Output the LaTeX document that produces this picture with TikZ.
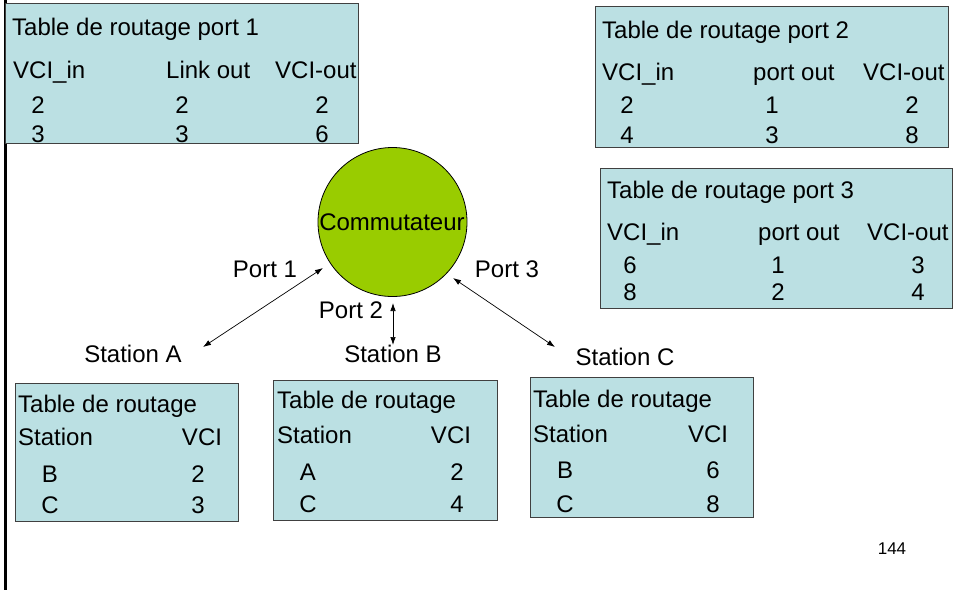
\documentclass[tikz,border=0pt]{standalone}
\usepackage{fontspec}
\setmainfont{Liberation Sans}
\usetikzlibrary{arrows.meta}
\definecolor{tabfill}{RGB}{187,224,227}
\definecolor{commgreen}{RGB}{153,204,0}
\begin{document}
\begin{tikzpicture}[x=1pt,y=-1pt,
  tabbox/.style={draw=black!75,line width=0.8pt,fill=tabfill},
  txt/.style={inner sep=0pt,font=\fontsize{24}{28}\selectfont,anchor=base},
  lft/.style={txt,anchor=base west},
  link/.style={line width=0.7pt,{Latex[length=8pt,width=5.5pt]}-{Latex[length=8pt,width=5.5pt]}}]
  \useasboundingbox (0,0) rectangle (959,590);
  \draw[line width=3pt] (5,0) -- (5,590);
  % tables of the switch
  \draw[tabbox] (5,3) rectangle (358,143);
  \node[lft] (t1title) at (12,35) {Table de routage port 1};
  \node[lft] (t1h1) at (13,78) {VCI\_in};
  \node[lft] (t1h2) at (166,78) {Link out};
  \node[lft] (t1h3) at (275,78) {VCI-out};
  \node[txt] (t1a1) at (38,113) {2};
  \node[txt] (t1a2) at (182,113) {2};
  \node[txt] (t1a3) at (322,113) {2};
  \node[txt] (t1b1) at (38,142) {3};
  \node[txt] (t1b2) at (182,142) {3};
  \node[txt] (t1b3) at (322,142) {6};
  \draw[tabbox] (595,6) rectangle (948,147);
  \node[lft] (t2title) at (602,38) {Table de routage port 2};
  \node[lft] (t2h1) at (602,80) {VCI\_in};
  \node[lft] (t2h2) at (753,80) {port out};
  \node[lft] (t2h3) at (863,80) {VCI-out};
  \node[txt] (t2a1) at (627,113) {2};
  \node[txt] (t2a2) at (772,113) {1};
  \node[txt] (t2a3) at (912,113) {2};
  \node[txt] (t2b1) at (627,143) {4};
  \node[txt] (t2b2) at (772,143) {3};
  \node[txt] (t2b3) at (912,143) {8};
  \draw[tabbox] (600,168) rectangle (952,308);
  \node[lft] (t3title) at (607,198) {Table de routage port 3};
  \node[lft] (t3h1) at (607,240) {VCI\_in};
  \node[lft] (t3h2) at (758,240) {port out};
  \node[lft] (t3h3) at (867,240) {VCI-out};
  \node[txt] (t3a1) at (630,273) {6};
  \node[txt] (t3a2) at (778,273) {1};
  \node[txt] (t3a3) at (918,273) {3};
  \node[txt] (t3b1) at (630,300) {8};
  \node[txt] (t3b2) at (778,300) {2};
  \node[txt] (t3b3) at (918,300) {4};
  % switch and ports
  \node[circle,draw,line width=0.8pt,fill=commgreen,minimum size=149pt,inner sep=0pt] (comm) at (392.5,222) {};
  \node[txt] (commlbl) at (392,230) {Commutateur};
  \node[txt] (port1) at (265,277) {Port 1};
  \node[txt] (port2) at (351,318) {Port 2};
  \node[txt] (port3) at (507,277) {Port 3};
  \node[txt] (staA) at (133,362) {Station A};
  \node[txt] (staB) at (393,362) {Station B};
  \node[txt] (staC) at (625,365) {Station C};
  \coordinate (p1in) at (323,268);
  \coordinate (p1out) at (203,347);
  \coordinate (p2in) at (393,303);
  \coordinate (p2out) at (393,345);
  \coordinate (p3in) at (453,278);
  \coordinate (p3out) at (555,347);
  \draw[link] (p1in) -- (p1out);
  \draw[link] (p2in) -- (p2out);
  \draw[link] (p3in) -- (p3out);
  % tables of the stations
  \draw[tabbox] (15,383) rectangle (238,521);
  \node[lft] (tatitle) at (18,412) {Table de routage};
  \node[lft] (tah1) at (18,445) {Station};
  \node[txt] (tah2) at (202,445) {VCI};
  \node[txt] (taa1) at (50,482) {B};
  \node[txt] (taa2) at (198,482) {2};
  \node[txt] (tab1) at (50,513) {C};
  \node[txt] (tab2) at (198,513) {3};
  \draw[tabbox] (273,380) rectangle (497,520);
  \node[lft] (tbtitle) at (277,408) {Table de routage};
  \node[lft] (tbh1) at (277,443) {Station};
  \node[txt] (tbh2) at (451,443) {VCI};
  \node[txt] (tba1) at (308,480) {A};
  \node[txt] (tba2) at (457,480) {2};
  \node[txt] (tbb1) at (308,512) {C};
  \node[txt] (tbb2) at (457,512) {4};
  \draw[tabbox] (530,377) rectangle (753,517);
  \node[lft] (tctitle) at (533,407) {Table de routage};
  \node[lft] (tch1) at (533,442) {Station};
  \node[txt] (tch2) at (708,442) {VCI};
  \node[txt] (tca1) at (565,478) {B};
  \node[txt] (tca2) at (713,478) {6};
  \node[txt] (tcb1) at (565,512) {C};
  \node[txt] (tcb2) at (713,512) {8};
  \node[inner sep=0pt,font=\fontsize{17}{20}\selectfont,anchor=base] (pagenum) at (892,554) {144};
\end{tikzpicture}
\end{document}
